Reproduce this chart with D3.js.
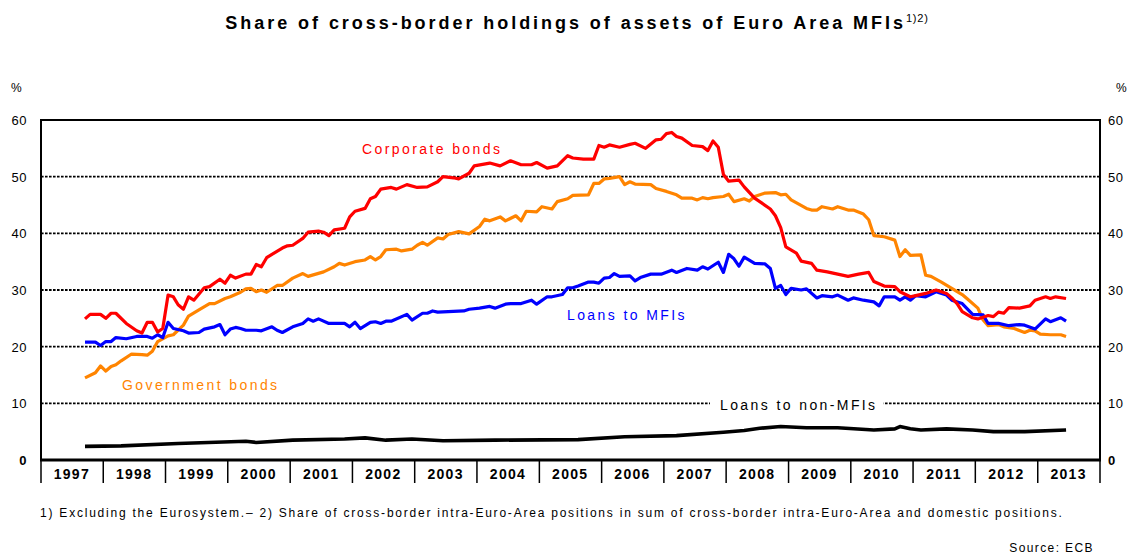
<!DOCTYPE html>
<html lang="en">
<head>
<meta charset="UTF-8">
<script src="https://d3js.org/d3.v7.min.js"></script>
<title>Share of cross-border holdings</title>
<style>
  body { margin: 0; background: #fff; }
  svg { display: block; font-family: "Liberation Sans", Arial, sans-serif; }
</style>
</head>
<body>
<div id="chart"></div>
<script>
// monthly readings (gaps where the line is straight)
const corpDates = ['1997-09','1997-10','1997-12',
  '1998-01','1998-02','1998-03','1998-05','1998-07','1998-08','1998-09','1998-10','1998-11','1998-12',
  '1999-01','1999-02','1999-03','1999-04','1999-05','1999-06','1999-08','1999-09','1999-11','1999-12',
  '2000-01','2000-02','2000-04','2000-05','2000-06','2000-07','2000-08','2000-09','2000-11','2000-12',
  '2001-01','2001-03','2001-04','2001-06','2001-07','2001-08','2001-09','2001-11','2001-12',
  '2002-01','2002-03','2002-04','2002-05','2002-06','2002-08','2002-09','2002-11',
  '2003-01','2003-03','2003-05','2003-06','2003-08','2003-09','2003-11','2003-12',
  '2004-03','2004-05','2004-07','2004-09','2004-11','2004-12',
  '2005-02','2005-04','2005-06','2005-07','2005-09','2005-11','2005-12',
  '2006-01','2006-02','2006-04','2006-06','2006-07','2006-09','2006-11','2006-12',
  '2007-01','2007-02','2007-03','2007-04','2007-06','2007-08','2007-09','2007-10','2007-11','2007-12',
  '2008-01','2008-03','2008-04','2008-06','2008-07','2008-09','2008-10','2008-11','2008-12',
  '2009-02','2009-03','2009-05','2009-06','2009-08','2009-10','2009-12',
  '2010-02','2010-04','2010-05','2010-07','2010-09','2010-10','2010-12',
  '2011-01','2011-03','2011-05','2011-07','2011-08','2011-09','2011-10','2011-12',
  '2012-01','2012-03','2012-04','2012-05','2012-06','2012-07','2012-09','2012-11','2012-12',
  '2013-02','2013-03','2013-04','2013-06']
const corpValues = [24.9,25.7,25.7,
  25.0,25.9,25.9,24.1,22.8,22.4,24.3,24.3,22.6,23.2,
  29.1,28.8,27.4,26.6,28.8,28.2,30.4,30.6,31.9,31.2,
  32.6,32.1,32.8,32.8,34.5,34.1,35.7,36.3,37.4,37.8,
  37.9,39.1,40.2,40.4,40.2,39.6,40.6,40.9,42.9,
  43.9,44.4,46.1,46.5,47.8,48.1,47.8,48.6,
  48.1,48.2,49.1,50.0,49.8,49.6,50.6,51.9,
  52.4,51.9,52.8,52.1,52.1,52.5,
  51.5,51.9,53.7,53.3,53.1,53.1,55.5,
  55.2,55.6,55.2,55.7,55.9,55.0,56.5,56.6,
  57.6,57.8,57.1,56.8,55.5,55.3,54.6,56.3,55.2,50.4,
  49.2,49.4,48.2,46.2,45.6,44.3,43.1,41.0,37.6,
  36.5,35.1,34.7,33.5,33.2,32.8,32.4,
  32.8,33.1,31.5,30.7,30.6,29.7,28.8,
  29.0,29.4,30.0,29.4,28.6,27.6,26.2,25.1,
  24.9,25.5,25.3,26.1,25.9,26.9,26.8,27.2,28.2,
  28.8,28.5,28.8,28.5]

const govDates = ['1997-09','1997-11','1997-12',
  '1998-01','1998-02','1998-03','1998-04','1998-06','1998-08','1998-09','1998-10','1998-11',
  '1999-01','1999-02','1999-04','1999-05','1999-07','1999-09','1999-10','1999-12',
  '2000-01','2000-03','2000-04','2000-05','2000-06','2000-07','2000-08','2000-10','2000-11',
  '2001-01','2001-03','2001-04','2001-07','2001-09','2001-10','2001-11',
  '2002-01','2002-03','2002-04','2002-05','2002-06','2002-07','2002-09','2002-10','2002-12',
  '2003-01','2003-02','2003-03','2003-05','2003-06','2003-07','2003-09','2003-11',
  '2004-01','2004-02','2004-03','2004-05','2004-06','2004-08','2004-09','2004-10','2004-12',
  '2005-01','2005-03','2005-04','2005-06','2005-07','2005-10','2005-11','2005-12',
  '2006-01','2006-02','2006-04','2006-05','2006-06','2006-07','2006-10','2006-11',
  '2007-01','2007-03','2007-04','2007-06','2007-07','2007-08','2007-09','2007-10','2007-12',
  '2008-01','2008-02','2008-04','2008-05','2008-06','2008-08','2008-10','2008-11','2008-12',
  '2009-01','2009-04','2009-05','2009-06','2009-07','2009-09','2009-10','2009-12',
  '2010-01','2010-03','2010-04','2010-05','2010-07','2010-09','2010-10','2010-11','2010-12',
  '2011-02','2011-03','2011-04','2011-06','2011-08','2011-10','2011-11',
  '2012-01','2012-02','2012-03','2012-05','2012-06','2012-08','2012-10','2012-11','2012-12',
  '2013-01','2013-03','2013-05','2013-06']
const govValues = [14.5,15.4,16.6,
  15.7,16.5,16.8,17.5,18.7,18.6,18.5,19.2,20.9,
  21.9,22.1,23.8,25.4,26.5,27.6,27.6,28.5,
  28.8,29.6,30.2,30.3,29.7,30.0,29.6,30.8,30.8,
  32.1,32.9,32.4,33.2,34.1,34.7,34.4,
  35.0,35.3,35.9,35.3,35.9,37.1,37.2,36.9,37.2,
  37.9,38.4,37.9,39.2,39.0,39.8,40.3,39.9,
  41.2,42.5,42.2,42.9,42.2,43.1,42.2,43.9,43.8,
  44.7,44.3,45.6,46.1,46.7,46.8,48.8,48.8,
  49.6,49.7,50.0,48.6,49.1,48.7,48.6,47.9,
  47.4,46.8,46.2,46.2,45.9,46.3,46.1,46.3,46.5,
  46.9,45.6,46.1,45.7,46.5,47.1,47.2,46.8,46.9,
  45.9,44.4,44.1,44.1,44.7,44.3,44.7,44.1,
  44.1,43.4,42.4,39.6,39.4,38.8,35.9,37.1,36.1,
  36.2,32.6,32.4,31.4,30.3,29.2,28.4,
  26.8,24.7,23.7,23.9,23.5,23.2,22.5,22.9,22.8,
  22.2,22.1,22.1,21.8]

const mfiDates = ['1997-09','1997-11','1997-12',
  '1998-01','1998-02','1998-03','1998-05','1998-07','1998-09','1998-10','1998-11','1998-12',
  '1999-01','1999-02','1999-04','1999-05','1999-07','1999-08','1999-10','1999-11','1999-12',
  '2000-01','2000-02','2000-03','2000-04','2000-06','2000-07','2000-09','2000-10','2000-11',
  '2001-01','2001-03','2001-04','2001-05','2001-06','2001-08','2001-11','2001-12',
  '2002-01','2002-02','2002-04','2002-05','2002-06','2002-07','2002-08','2002-11','2002-12',
  '2003-02','2003-03','2003-04','2003-05','2003-10','2003-11',
  '2004-01','2004-03','2004-04','2004-06','2004-07','2004-09','2004-11','2004-12',
  '2005-02','2005-03','2005-05','2005-06','2005-07','2005-08','2005-10','2005-11','2005-12',
  '2006-01','2006-02','2006-03','2006-04','2006-06','2006-07','2006-08','2006-10','2006-12',
  '2007-02','2007-03','2007-05','2007-07','2007-08','2007-09','2007-11','2007-12',
  '2008-01','2008-02','2008-03','2008-04','2008-06','2008-08','2008-09','2008-10','2008-11','2008-12',
  '2009-01','2009-03','2009-04','2009-06','2009-07','2009-09','2009-10','2009-12',
  '2010-01','2010-03','2010-05','2010-06','2010-07','2010-09','2010-10','2010-11','2010-12',
  '2011-01','2011-03','2011-05','2011-07','2011-08','2011-10','2011-12',
  '2012-02','2012-03','2012-05','2012-07','2012-09','2012-10','2012-12',
  '2013-02','2013-03','2013-05','2013-06']
const mfiValues = [20.8,20.8,20.2,
  20.9,20.9,21.6,21.4,21.8,21.8,21.5,22.1,21.6,
  24.3,23.2,22.8,22.4,22.5,23.1,23.5,23.9,22.1,
  23.1,23.4,23.2,22.9,22.9,22.8,23.5,22.9,22.5,
  23.5,24.1,24.9,24.5,24.9,24.1,24.1,23.5,
  24.3,23.2,24.3,24.4,24.1,24.5,24.5,25.7,24.7,
  25.9,25.9,26.3,26.1,26.3,26.6,
  26.8,27.1,26.8,27.5,27.6,27.6,28.2,27.5,
  28.8,28.8,29.2,30.4,30.4,30.7,31.4,31.4,31.2,
  32.1,32.2,32.9,32.4,32.5,31.6,32.2,32.8,32.8,
  33.5,33.1,33.8,33.5,34.1,33.7,34.9,33.1,
  36.3,35.5,34.2,35.8,34.7,34.6,33.8,30.3,30.8,29.2,
  30.3,30.0,30.2,28.6,29.0,28.8,29.1,28.2,
  28.6,28.2,27.9,27.2,28.8,28.8,28.2,28.8,28.2,
  29.0,28.8,29.7,29.1,28.2,27.6,25.7,
  25.6,24.1,24.1,23.7,23.9,23.8,23.1,
  24.9,24.4,25.1,24.5]

const nonMfiDates = ['1997-09','1998-04','1999-03','2000-04','2000-06','2001-01','2001-11','2002-03',
  '2002-07','2002-12','2003-06','2004-04','2005-08','2006-05','2007-03','2007-12','2008-04','2008-07',
  '2008-11','2009-04','2009-10','2010-05','2010-09','2010-10','2010-12','2011-02','2011-07','2011-12',
  '2012-04','2012-10','2013-06']
const nonMfiValues = [2.4,2.5,2.9,3.3,3.1,3.5,3.7,3.9,
  3.5,3.7,3.4,3.5,3.6,4.1,4.3,4.9,5.2,5.6,
  5.9,5.7,5.7,5.3,5.5,5.9,5.5,5.3,5.5,5.3,
  5.0,5.0,5.3]

const years = d3.range(1997, 2014)
const yTicks = [0, 10, 20, 30, 40, 50, 60]

const series = [
  {name: 'Government bonds', color: '#ff8400', dates: govDates, values: govValues, lx: 122, ly: 390},
  {name: 'Loans to non-MFIs', color: '#000000', dates: nonMfiDates, values: nonMfiValues, lx: 720, ly: 410},
  {name: 'Loans to MFIs', color: '#0000ff', dates: mfiDates, values: mfiValues, lx: 567, ly: 320},
  {name: 'Corporate bonds', color: '#ff0000', dates: corpDates, values: corpValues, lx: 362, ly: 154}
]

const W = 1137, H = 556
const plotL = 41, plotR = 1100, plotT = 120, plotB = 460

const parse = d3.timeParse('%Y-%m')
const mid = s => d3.timeDay.offset(parse(s), 15)

const x = d3.scaleTime()
  .domain([new Date(1997, 0, 1), new Date(2014, 0, 1)])
  .range([plotL, plotR])
const y = d3.scaleLinear().domain([0, 60]).range([plotB, plotT])

const svg = d3.select('#chart').append('svg')
  .attr('width', W).attr('height', H)

// title
const title = svg.append('text')
  .attr('x', 577).attr('y', 29)
  .attr('text-anchor', 'middle')
  .style('font-size', '18px').style('font-weight', 'bold').style('letter-spacing', '2.95px')
title.append('tspan').text('Share of cross-border holdings of assets of Euro Area MFIs')
title.append('tspan').attr('dy', -7).style('font-size', '11px').style('font-weight', 'normal')
  .style('letter-spacing', '0.8px').text('1)2)')

// gridlines
svg.append('g').selectAll('line')
  .data(yTicks.filter(d => d > 0 && d < 60))
  .enter().append('line')
  .attr('x1', plotL).attr('x2', plotR)
  .attr('y1', d => y(d)).attr('y2', d => y(d))
  .attr('stroke', '#000').attr('stroke-width', 1.8)
  .attr('stroke-dasharray', '2.6,1.4')

const bgLayer = svg.append('g')

// y labels both sides
const ylab = svg.append('g').style('font-size', '13px').style('letter-spacing', '0.5px')
ylab.selectAll('.yl').data(yTicks).enter().append('text')
  .attr('x', 27).attr('y', d => y(d) + 5).attr('text-anchor', 'end')
  .style('font-weight', d => d === 0 ? 'bold' : 'normal')
  .text(d => d)
ylab.selectAll('.yr').data(yTicks).enter().append('text')
  .attr('x', 1108).attr('y', d => y(d) + 5)
  .style('font-weight', d => d === 0 ? 'bold' : 'normal')
  .text(d => d)
ylab.append('text').attr('x', 11).attr('y', 92).style('font-size', '12px').text('%')
ylab.append('text').attr('x', 1116).attr('y', 92).style('font-size', '12px').text('%')

// lines
const line = d3.line()
  .x(d => x(d[0]))
  .y(d => y(d[1]))

series.forEach(s => {
  const pts = s.dates.map((d, i) => [mid(d), s.values[i]])
  svg.append('path')
    .datum(pts)
    .attr('d', line)
    .attr('fill', 'none')
    .attr('stroke', s.color)
    .attr('stroke-width', s.color === '#000000' ? 3.6 : 3.2)
    .attr('stroke-linejoin', 'round')
})

// series labels
series.forEach(s => {
  const t = svg.append('text')
    .attr('x', s.lx).attr('y', s.ly)
    .attr('fill', s.color)
    .style('font-size', '14px').style('letter-spacing', '2.4px')
    .text(s.name)
  if (s.color === '#000000') {
    const b = t.node().getBBox()
    bgLayer.append('rect')
      .attr('x', b.x - 10).attr('y', b.y).attr('width', b.width + 16).attr('height', b.height)
      .attr('fill', '#fff')
  }
})

// frame
svg.append('rect')
  .attr('x', plotL).attr('y', plotT).attr('width', plotR - plotL).attr('height', plotB - plotT)
  .attr('fill', 'none').attr('stroke', '#000').attr('stroke-width', 2)
svg.append('line')
  .attr('x1', plotL - 1).attr('x2', plotR + 1).attr('y1', plotB).attr('y2', plotB)
  .attr('stroke', '#000').attr('stroke-width', 3)

// x axis: year bands
const xa = svg.append('g')
xa.selectAll('line').data(d3.range(1997, 2015)).enter().append('line')
  .attr('x1', d => x(new Date(d, 0, 1))).attr('x2', d => x(new Date(d, 0, 1)))
  .attr('y1', plotB).attr('y2', 483)
  .attr('stroke', '#000').attr('stroke-width', 1.5)
xa.selectAll('text').data(years).enter().append('text')
  .attr('x', d => x(new Date(d, 6, 1)))
  .attr('y', 479)
  .attr('text-anchor', 'middle')
  .style('font-size', '14px').style('font-weight', 'bold').style('letter-spacing', '1.3px')
  .text(d => d)

// footnotes
svg.append('text')
  .attr('x', 40).attr('y', 517)
  .style('font-size', '12px').style('letter-spacing', '1.78px')
  .text('1) Excluding the Eurosystem.\u2013 2) Share of cross-border intra-Euro-Area positions in sum of cross-border intra-Euro-Area and domestic positions.')
svg.append('text')
  .attr('x', 1094).attr('y', 552).attr('text-anchor', 'end')
  .style('font-size', '12px').style('letter-spacing', '1.4px')
  .text('Source: ECB')
</script>
</body>
</html>
